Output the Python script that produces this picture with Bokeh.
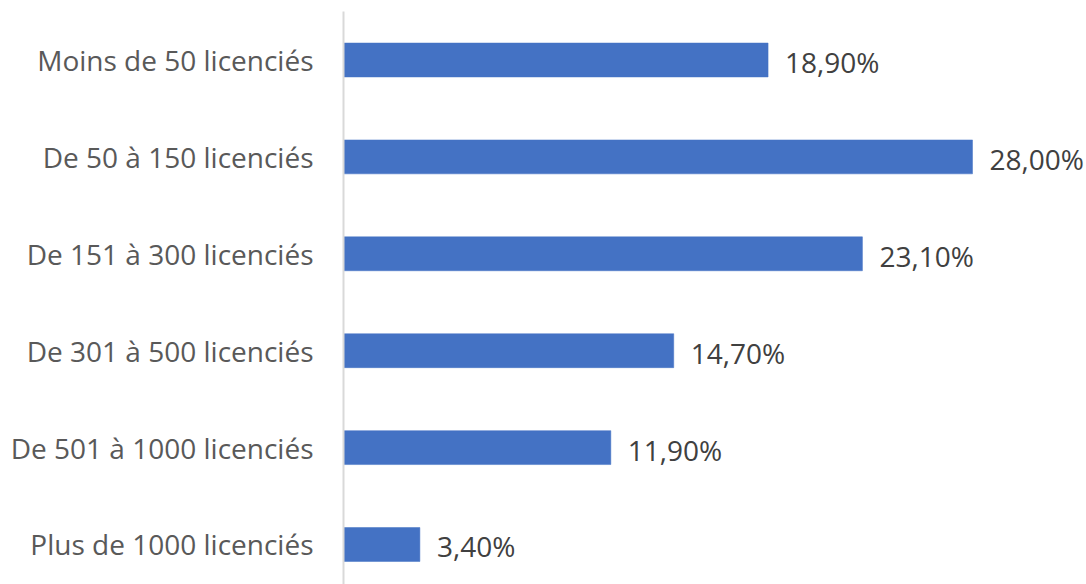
from bokeh.plotting import figure
from bokeh.models import Range1d, FixedTicker, ColumnDataSource
from bokeh.core.properties import value
from bokeh.embed import file_html
from bokeh.resources import INLINE

categories = ["Moins de 50 licenciés", "De 50 à 150 licenciés", "De 151 à 300 licenciés",
              "De 301 à 500 licenciés", "De 501 à 1000 licenciés", "Plus de 1000 licenciés"]
values = [18.9, 28.0, 23.1, 14.7, 11.9, 3.4]
labels = ["18,90%", "28,00%", "23,10%", "14,70%", "11,90%", "3,40%"]

n = len(categories)
ypos = [n - 1 - i for i in range(n)]

src = ColumnDataSource(dict(y=ypos, v=values, lab=labels))

p = figure(width=1086, height=584, output_backend="svg", toolbar_location=None,
           x_range=Range1d(0, 33.075), y_range=Range1d(-0.4128, 5.5005),
           min_border_left=343, min_border_top=11, min_border_bottom=0, min_border_right=0)
p.background_fill_color = "white"
p.border_fill_color = "white"
p.outline_line_color = None
p.grid.visible = False
p.xaxis.visible = False

p.hbar(y="y", left=0, right="v", height=0.35, source=src,
       fill_color="#4472C4", line_color="#4472C4", line_width=0.5)
p.text(x="v", y="y", text="lab", source=src, x_offset=17, y_offset=2,
       text_align="left", text_baseline="middle",
       text_font=value("Open Sans"), text_font_size="28px", text_color="#404040")

ax = p.yaxis[0]
ax.ticker = FixedTicker(ticks=ypos)
ax.major_label_overrides = {y: c for y, c in zip(ypos, categories)}
ax.major_tick_out = 0
ax.major_tick_in = 0
ax.minor_tick_out = 0
ax.minor_tick_in = 0
ax.axis_line_color = "#d9d9d9"
ax.axis_line_width = 2
ax.major_label_standoff = 30
ax.major_label_text_font = "Open Sans"
ax.major_label_text_font_size = "28px"
ax.major_label_text_color = "#595959"

open("out.html", "w").write(file_html(p, INLINE))
